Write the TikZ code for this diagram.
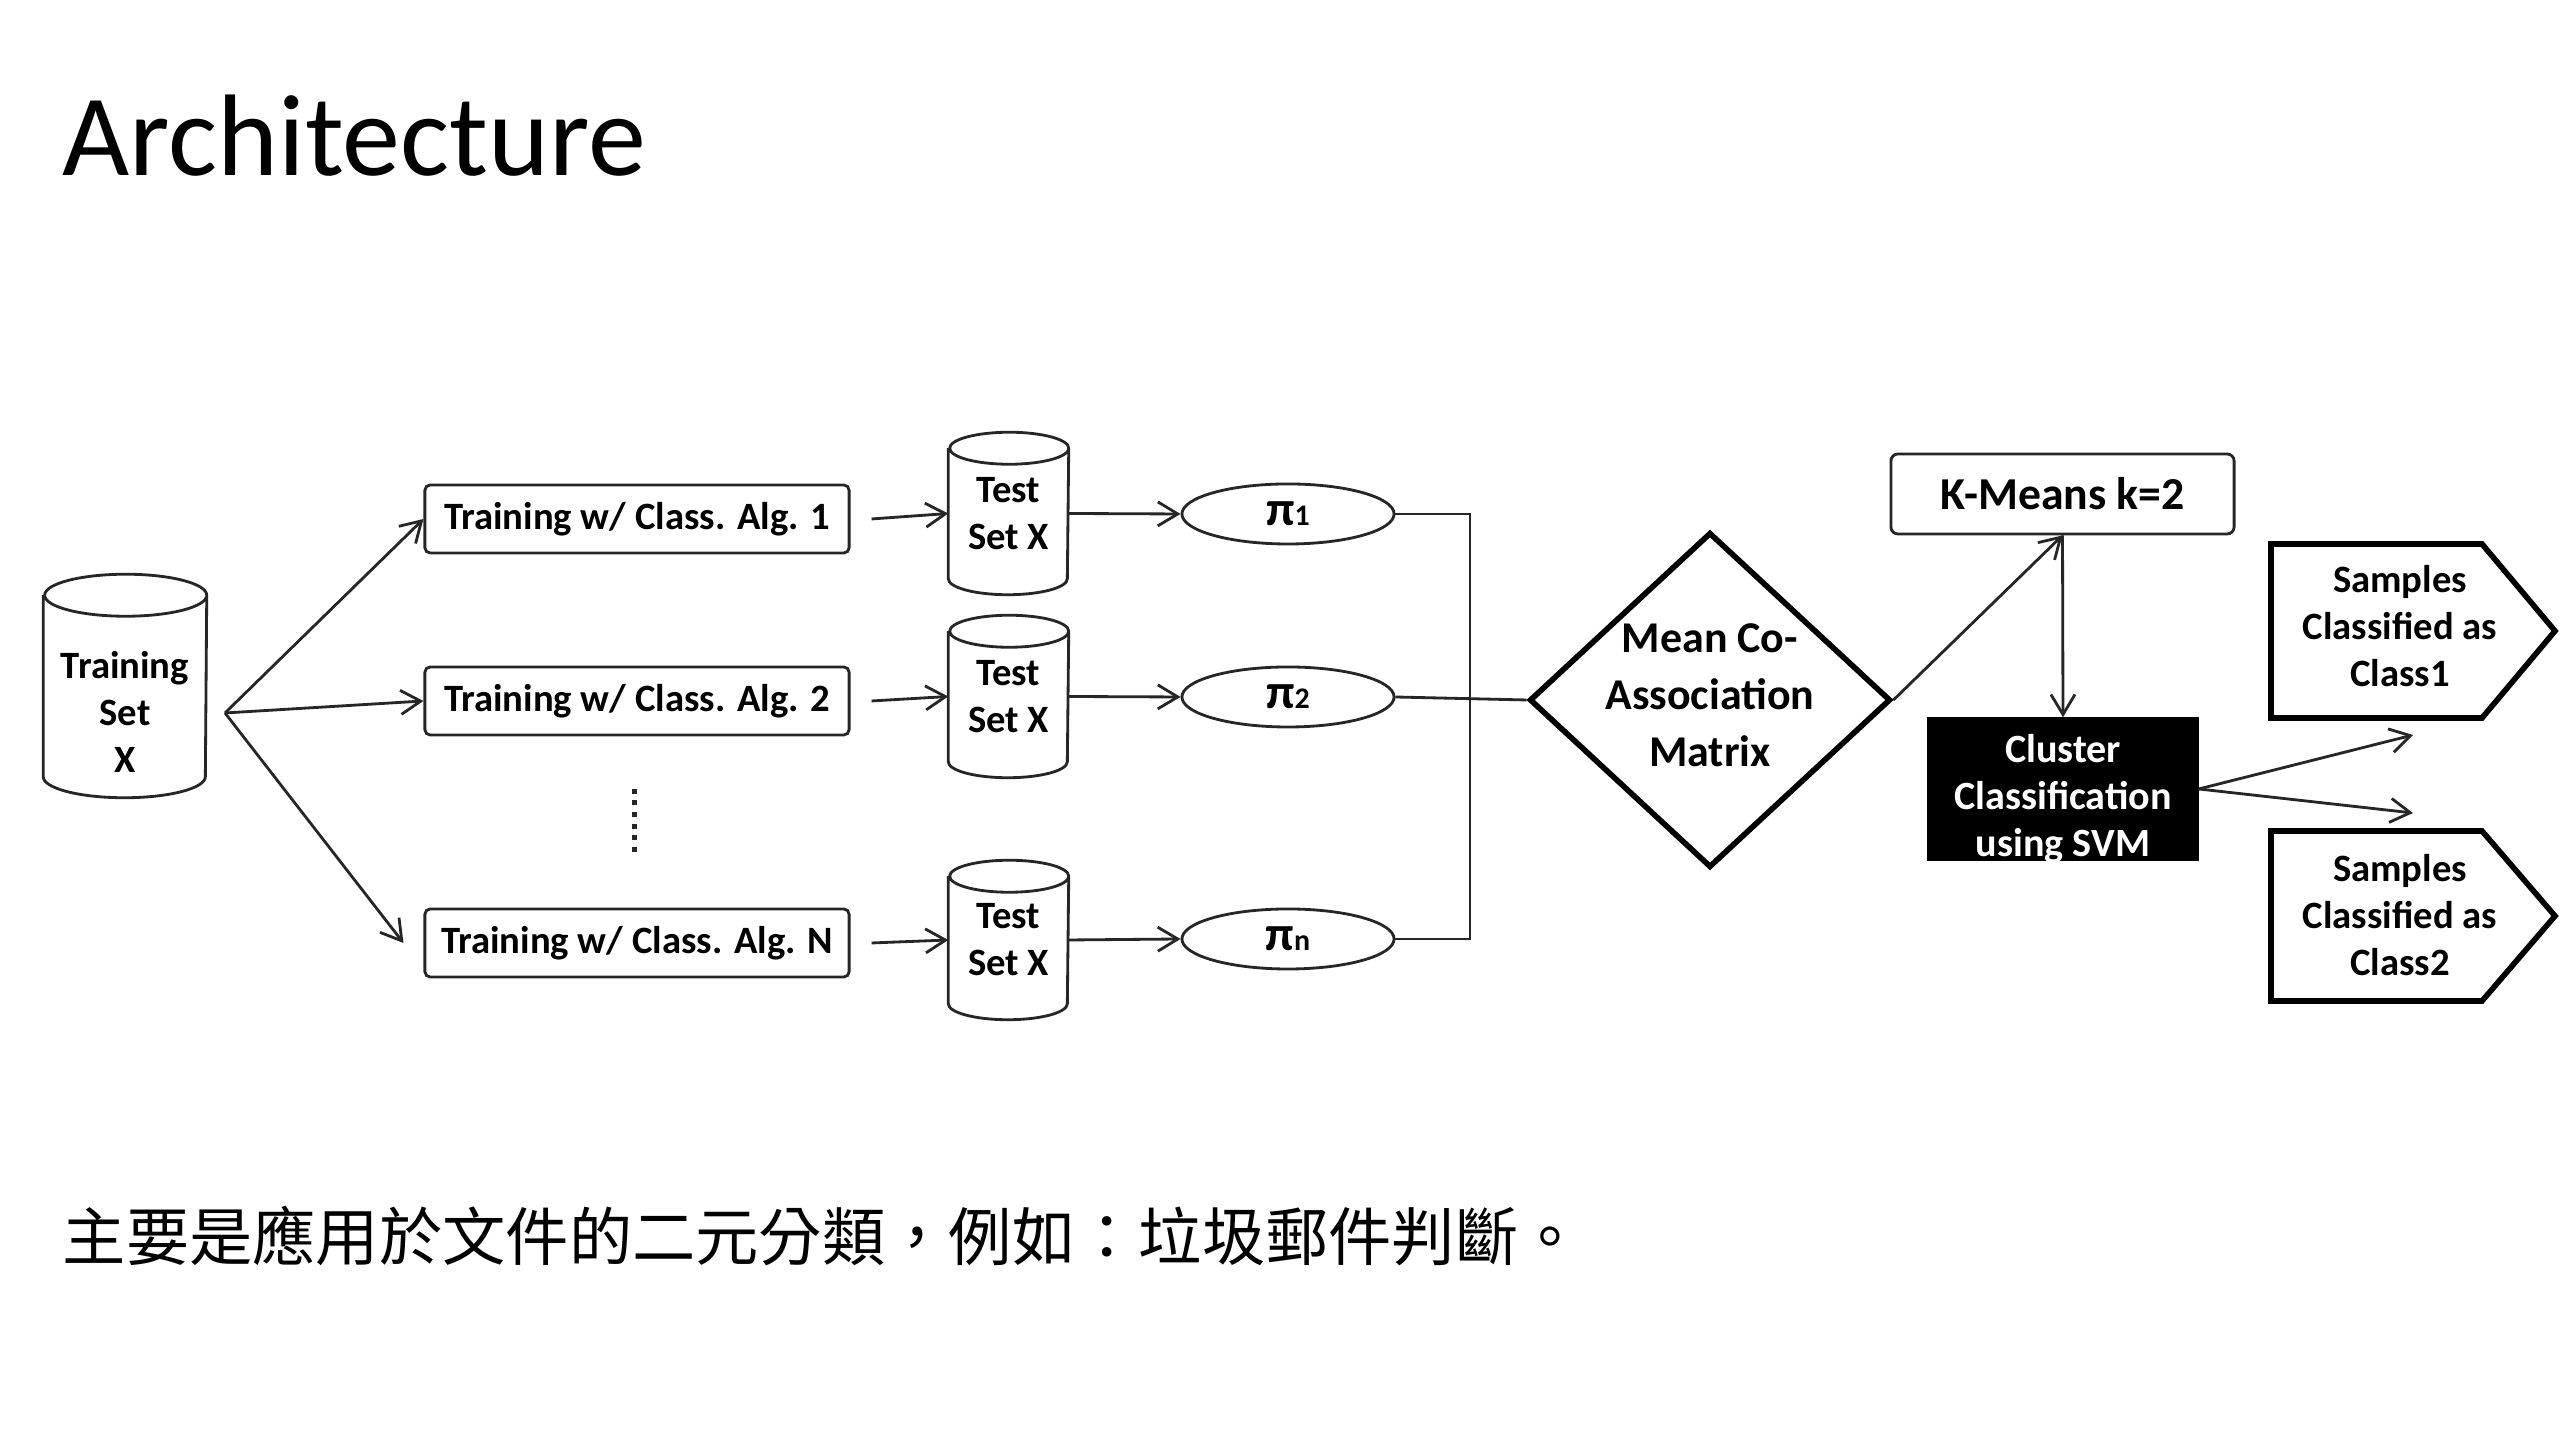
\documentclass[tikz,border=0pt]{standalone}
\usepackage{fontspec}
\setmainfont{Carlito}
\newfontfamily\cjk{Noto Sans CJK TC}
\usetikzlibrary{arrows.meta,shapes.geometric,calc}
\newcommand\mycyl[3]{%
  \draw[ln] ([yshift=-#3]#1.north west) -- ([yshift=#3]#1.south west)
    arc[start angle=180,end angle=360,x radius=#2,y radius=#3]
    -- ([yshift=-#3]#1.north east)
    arc[start angle=0,end angle=180,x radius=#2,y radius=#3]
    arc[start angle=180,end angle=360,x radius=#2,y radius=#3];}
\begin{document}
\begin{tikzpicture}[x=0.01cm,y=0.01cm,
  ln/.style={line width=0.8pt, draw=black!85},
  arr/.style={ln, -{Straight Barb[length=0.2cm,width=0.24cm,line width=0.8pt]}},
  dtxt/.style={font=\bfseries\fontsize{11pt}{13.3pt}\selectfont, align=center, inner sep=0pt},
  tbox/.style={ln, rounded corners=1.5pt, minimum width=4.24cm, minimum height=0.68cm, inner sep=0pt, font=\bfseries\fontsize{11pt}{13pt}\selectfont},
  cylframe/.style={minimum width=1.19cm, minimum height=1.61cm, inner sep=0pt, dtxt},
  pinode/.style={ln, ellipse, minimum width=2.12cm, minimum height=0.6cm, inner sep=0pt, font=\bfseries},
  thick line/.style={line width=1.6pt, draw=black}
]
\useasboundingbox (0,0) rectangle (2560,1440);
\fill[white] (0,0) rectangle (2560,1440);

% title
\node[anchor=base west, inner sep=0pt, font=\fontsize{33pt}{36pt}\selectfont] (title) at (62,1264) {Architecture};

% training set cylinder
\node[minimum width=1.62cm, minimum height=2.22cm, inner sep=0pt] (tsx) at (125,754) {};
\mycyl{tsx}{0.81cm}{0.21cm}
\node[dtxt] (tsxt) at (125,728) {Training\\Set\\X};
\coordinate (fan) at (225,727);

% training boxes
\node[tbox] (b1) at (637,921) {Training w/ Class. Alg. 1};
\node[tbox] (b2) at (637,739) {Training w/ Class. Alg. 2};
\node[tbox] (bN) at (637,497) {Training w/ Class. Alg. N};
\draw[arr] (fan) -- (b1.west);
\draw[arr] (fan) -- (b2.west);
\draw[arr] (fan) -- ([xshift=-0.2cm]bN.west);
\coordinate (dtop) at (634,651);
\coordinate (dbot) at (634,583);
\draw[line width=0.05cm, black!85, dash pattern=on 0.05cm off 0.065cm] (dtop) -- (dbot);

% test set cylinders
\node[cylframe] (t1) at (1008.5,926.5) {Test\\Set X};
\node[cylframe] (t2) at (1008.5,743.5) {Test\\Set X};
\node[cylframe, minimum height=1.58cm] (t3) at (1008.5,500) {Test\\Set X};
\mycyl{t1}{0.595cm}{0.16cm}
\mycyl{t2}{0.595cm}{0.16cm}
\mycyl{t3}{0.595cm}{0.16cm}
\draw[arr] ([xshift=0.21cm]b1.east) -- (t1.west);
\draw[arr] ([xshift=0.21cm]b2.east) -- (t2.west);
\draw[arr] ([xshift=0.21cm]bN.east) -- (t3.west);

% pi ellipses
\node[pinode] (e1) at (1288,926) {{\fontsize{14pt}{14pt}\selectfont π}{\fontsize{8.5pt}{9pt}\selectfont 1}};
\node[pinode] (e2) at (1288,743) {{\fontsize{14pt}{14pt}\selectfont π}{\fontsize{8.5pt}{9pt}\selectfont 2}};
\node[pinode] (e3) at (1288,501) {{\fontsize{14pt}{14pt}\selectfont π}{\fontsize{8.5pt}{9pt}\selectfont n}};
\draw[arr] (t1.east) -- (e1.west);
\draw[arr] (t2.east) -- (e2.west);
\draw[arr] (t3.east) -- (e3.west);

% diamond
\node[thick line, diamond, minimum width=3.61cm, minimum height=3.35cm, inner sep=0pt] (mca) at (1710,740) {};
\node[dtxt, font=\bfseries\fontsize{12.5pt}{16.2pt}\selectfont] (mcat) at (1710,745) {Mean Co-\\Association\\Matrix};
\coordinate (bx) at (1470,740);
\draw[ln] (e1.east) -- (e1.east -| bx) -- (e3.east -| bx) -- (e3.east);
\draw[ln] (e2.east) -- (mca.west);

% K-means
\node[ln, rounded corners=2pt, minimum width=3.43cm, minimum height=0.8cm, inner sep=0pt, font=\bfseries\fontsize{13pt}{15pt}\selectfont] (km) at (2062.5,946) {K-Means k=2};
\draw[arr] (mca.east) -- (km.south);

% cluster classification
\node[fill=black, draw=black, minimum width=2.7cm, minimum height=1.42cm, inner sep=0pt] (cl) at (2063,651) {};
\node[dtxt, text=white, font=\bfseries\fontsize{11.4pt}{13.4pt}\selectfont] (clt) at (2063,641) {Cluster\\Classification\\using SVM};
\draw[arr] (km.south) -- (cl.north);

% samples
\draw[thick line] (2271,896) -- (2482,896) -- (2555,809) -- (2482,722) -- (2271,722) -- cycle;
\draw[thick line] (2271,609) -- (2482,609) -- (2555,524) -- (2482,439) -- (2271,439) -- cycle;
\node[dtxt] (s1) at (2400,814) {Samples\\Classified as\\Class1};
\node[dtxt] (s2) at (2400,525) {Samples\\Classified as\\Class2};
\coordinate (c1) at (2413,705);
\coordinate (c2) at (2413,627);
\draw[arr] (cl.east) -- (c1);
\draw[arr] (cl.east) -- (c2);

% Chinese caption
\node[anchor=west, inner sep=0pt, font=\cjk\fontsize{18pt}{20pt}\selectfont] (cap) at (62,204) {主要是應用於文件的二元分類，例如：垃圾郵件判斷。};
\end{tikzpicture}
\end{document}
